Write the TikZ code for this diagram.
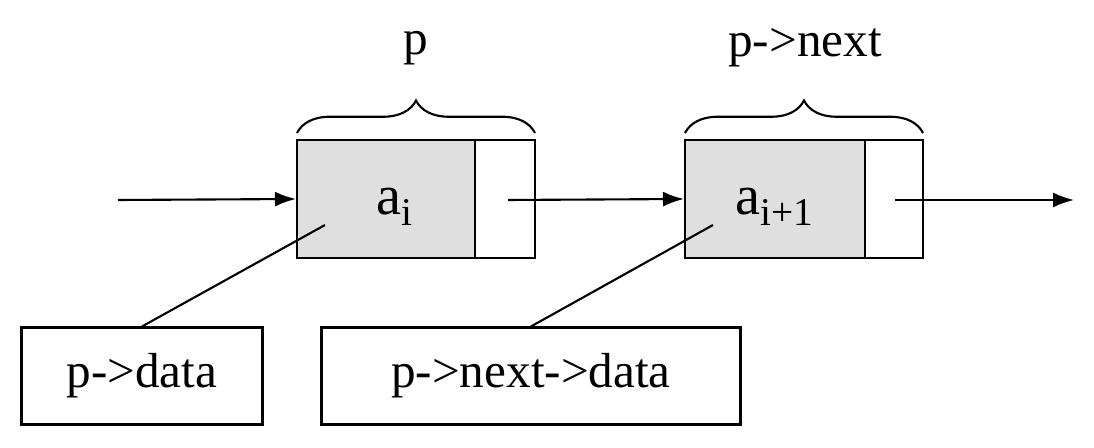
\documentclass[tikz,border=0pt]{standalone}
\usepackage{fontspec}
\setmainfont{Liberation Serif}
\usetikzlibrary{decorations.pathreplacing, arrows.meta}
\begin{document}
\begin{tikzpicture}[x=0.02cm, y=-0.02cm, font=\fontsize{28}{30}\selectfont,
    line width=1.2pt,
    cell/.style={draw, minimum height=2.36cm, inner sep=0pt},
    lbl/.style={draw, minimum height=1.94cm, inner sep=0pt},
    brc/.style={decorate, decoration={brace, amplitude=0.65cm}},
    arr/.style={-{Latex[length=0.42cm, width=0.3cm]}}]
        \useasboundingbox (0,0) rectangle (1094,448);
        % first node (p)
        \node[cell, fill=gray!25, minimum width=3.56cm] (d1) at (386,199) {};
        \node[cell, minimum width=1.2cm] (n1) at (505,199) {};
        \node[font=\fontsize{32}{34}\selectfont] (a1) at (395,207) {a\textsubscript{i}};
        % second node (p->next)
        \node[cell, fill=gray!25, minimum width=3.6cm] (d2) at (775,199) {};
        \node[cell, minimum width=1.16cm] (n2) at (894,199) {};
        \node[font=\fontsize{32}{34}\selectfont] (a2) at (775,207) {a\textsubscript{i+1}};
        % braces
        \coordinate (b1l) at (297,133); \coordinate (b1r) at (535,133);
        \coordinate (b2l) at (685,133); \coordinate (b2r) at (923,133);
        \draw[brc] (b1l) -- (b1r);
        \draw[brc] (b2l) -- (b2r);
        \node (p) at (416,48) {p};
        \node (pn) at (805,48) {p->next};
        % arrows
        \coordinate (in) at (118,200);
        \coordinate (s1) at (508,200);
        \coordinate (s2) at (895,200);
        \coordinate (out) at (1074,200);
        \draw[arr] (in) -- (d1.west);
        \draw[arr] (s1) -- (d2.west);
        \draw[arr] (s2) -- (out);
        % labels below
        \node[lbl, minimum width=4.82cm] (pd) at (142,376) {p->data};
        \node[lbl, minimum width=8.38cm] (pnd) at (531,376) {p->next->data};
        \coordinate (t1) at (325,225);
        \coordinate (t2) at (713,225);
        \draw (t1) -- (pd.north);
        \draw (t2) -- (pnd.north);
\end{tikzpicture}
\end{document}
